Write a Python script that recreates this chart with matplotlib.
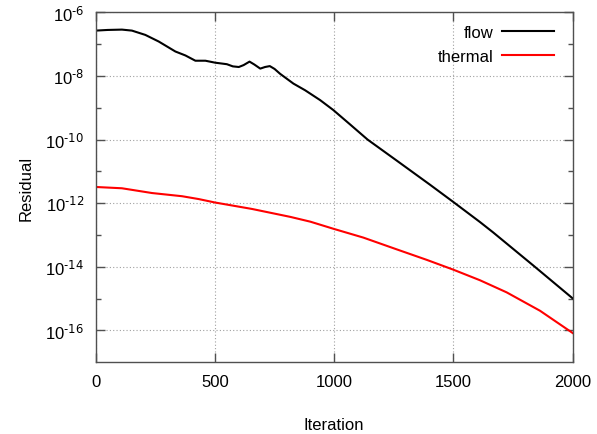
import matplotlib

matplotlib.use("Agg")
import matplotlib.pyplot as plt
from matplotlib.ticker import NullFormatter

# --- data -------------------------------------------------------------------------
flow_iter = [0, 50, 110, 152, 208, 264, 334, 376, 418, 460, 501, 550, 575, 600,
             620, 645, 665, 690, 710, 730, 750, 773, 829, 878, 941, 996, 1066,
             1140, 1262, 1402, 1499, 1611, 1667, 1835, 2000]
flow_res = [2.66e-7, 2.79e-7, 2.86e-7, 2.66e-7, 1.95e-7, 1.21e-7, 5.87e-8,
            4.41e-8, 3.01e-8, 3.01e-8, 2.61e-8, 2.34e-8, 2.00e-8, 1.91e-8,
            2.19e-8, 2.82e-8, 2.29e-8, 1.70e-8, 1.91e-8, 2.04e-8, 1.66e-8,
            1.17e-8, 5.75e-9, 3.55e-9, 1.74e-9, 8.51e-10, 3.02e-10, 1.00e-10,
            2.19e-11, 3.80e-12, 1.10e-12, 2.57e-13, 1.20e-13, 1.10e-14,
            1.02e-15]

thermal_iter = [0, 110, 236, 362, 432, 501, 655, 816, 900, 996, 1050, 1122,
                1262, 1388, 1500, 1611, 1723, 1863, 2000]
thermal_res = [3.24e-12, 2.95e-12, 2.09e-12, 1.66e-12, 1.35e-12, 1.05e-12,
               6.61e-13, 3.72e-13, 2.63e-13, 1.58e-13, 1.20e-13, 8.32e-14,
               3.55e-14, 1.66e-14, 8.13e-15, 3.80e-15, 1.58e-15, 4.17e-16,
               8.32e-17]

x_ticks = [0, 500, 1000, 1500, 2000]
y_ticks = [1e-16, 1e-14, 1e-12, 1e-10, 1e-8, 1e-6]
y_tick_labels = ["$10^{\\text{-16}}$", "$10^{\\text{-14}}$", "$10^{\\text{-12}}$",
                 "$10^{\\text{-10}}$", "$10^{\\text{-8}}$", "$10^{\\text{-6}}$"]
y_minor = [1e-15, 1e-13, 1e-11, 1e-9, 1e-7]

# --- style (gnuplot-ish) ----------------------------------------------------------
plt.rcParams.update({
    "font.family": ["Liberation Sans", "DejaVu Sans"],
    "font.size": 12,
    "mathtext.default": "regular",
})
FRAME = "#505050"

fig = plt.figure(figsize=(5.97, 4.35), dpi=100)
ax = fig.add_axes([0.1603, 0.1648, 0.7990, 0.8046])

ax.plot(flow_iter, flow_res, color="#000000", lw=1.5, label="flow")
ax.plot(thermal_iter, thermal_res, color="#ff0000", lw=1.5, label="thermal")

ax.set_yscale("log")
ax.set_xlim(0, 2000)
ax.set_ylim(1e-17, 1e-6)
ax.set_xticks(x_ticks)
ax.set_yticks(y_ticks)
ax.set_yticklabels(y_tick_labels)
ax.set_yticks(y_minor, minor=True)
ax.yaxis.set_minor_formatter(NullFormatter())
ax.tick_params(which="both", direction="in", top=True, right=True,
               color=FRAME, width=1.0, pad=8.4)
ax.tick_params(which="major", length=6.5)
ax.tick_params(which="minor", length=3.6)
ax.grid(True, which="major", ls=(0, (1, 2)), color="#a0a0a0", lw=0.8)
for sp in ax.spines.values():
    sp.set_color(FRAME)
    sp.set_linewidth(1.0)

ax.set_xlabel("Iteration")
ax.set_ylabel("Residual")
ax.xaxis.set_label_coords(0.5, -0.156)
ax.yaxis.set_label_coords(-0.131, 0.5)

ax.legend(loc="upper right", bbox_to_anchor=(0.9608, 0.964), frameon=False,
          markerfirst=False, handlelength=3.1, handletextpad=0.55,
          labelspacing=0.56, borderpad=0, borderaxespad=0, fontsize=12)

fig.savefig("out.png", dpi=100)
